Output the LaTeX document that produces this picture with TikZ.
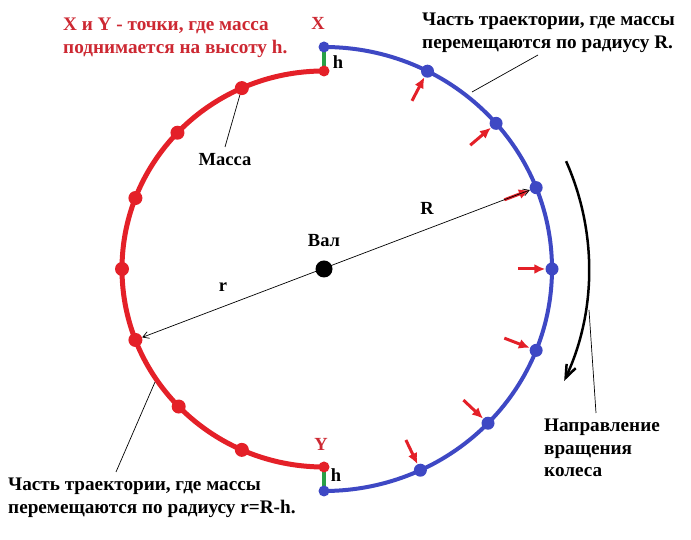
\documentclass[tikz,border=0pt]{standalone}
\usepackage{fontspec}
\setmainfont{Liberation Serif}
\usetikzlibrary{arrows.meta,calc}
\definecolor{arcred}{RGB}{228,32,40}
\definecolor{txtred}{RGB}{205,40,50}
\definecolor{arcblue}{RGB}{62,72,196}
\definecolor{hgreen}{RGB}{40,160,70}
\begin{document}
\begin{tikzpicture}[x=1pt,y=1pt,
  redarc/.style={arcred,line width=5pt},
  bluearc/.style={arcblue,line width=4pt},
  reddot/.style={circle,fill=arcred,inner sep=0pt,minimum size=14pt},
  bluedot/.style={circle,fill=arcblue,inner sep=0pt,minimum size=13pt},
  hseg/.style={hgreen,line width=4pt},
  pusharrow/.style={arcred,line width=3pt,-{Latex[length=11pt,width=10pt]},shorten >=0pt},
  leader/.style={black,line width=0.7pt},
  thinarrow/.style={black,line width=0.7pt,{Straight Barb[length=6pt,width=7pt]}-{Straight Barb[length=6pt,width=7pt]}},
  rotarrow/.style={black,line width=2.5pt,-{Straight Barb[length=13pt,width=10pt]}},
  bigtxt/.style={font=\fontsize{19.2}{22.5}\selectfont\bfseries,align=left,inner sep=0pt},
  lbl/.style={font=\fontsize{18.5}{21}\selectfont\bfseries,inner sep=0pt}
]
\useasboundingbox (0,0) rectangle (691,540);
\fill[white] (0,0) rectangle (691,540);
\coordinate (C) at (324,271);

% arcs
\draw[redarc] ($(C)+(0,198)$) arc[start angle=90,end angle=270,x radius=202,y radius=198];
\draw[bluearc] ($(C)+(0,222)$) arc[start angle=90,end angle=-90,x radius=228,y radius=222];

% height segments
\draw[hseg] ($(C)+(0,222)$) -- ($(C)+(0,198)$);
\draw[hseg] ($(C)+(0,-222)$) -- ($(C)+(0,-198)$);

% red dots
\node[reddot,minimum size=11pt] (r1) at ($(C)+(0,198)$) {};
\foreach \a [count=\i from 2] in {114,136.5,159,180,201,224,246}
  \node[reddot] (r\i) at ($(C)+({202*cos(\a)},{198*sin(\a)})$) {};
\node[reddot,minimum size=11pt] (r9) at ($(C)+(0,-198)$) {};
% blue dots
\node[bluedot,minimum size=11pt] (b1) at ($(C)+(0,222)$) {};
\foreach \a [count=\i from 2] in {63,41,21.5,0,-21.5,-44,-65}
  \node[bluedot] (b\i) at ($(C)+({228*cos(\a)},{222*sin(\a)})$) {};
\node[bluedot,minimum size=11pt] (b9) at ($(C)+(0,-222)$) {};

% red push arrows
\foreach \i in {2,...,8}
  \draw[pusharrow] ($(C)!0.85!(b\i)$) -- (b\i);

% shaft
\node[circle,fill=black,inner sep=0pt,minimum size=17pt] (shaft) at (C) {};
\node[lbl] (val) at (324,299) {Вал};

% radius line
\draw[thinarrow] (r6) -- (b4);
\node[lbl] (Rl) at (427,332) {R};
\node[lbl] (rl) at (223,253) {r};

% rotation arrow
\draw[rotarrow] ($(C)+(24:265)$) arc[start angle=24,end angle=-25,radius=265];

% X / Y labels
\node[lbl,txtred] (X) at (318,517) {X};
\node[lbl] (h1) at (338,478) {h};
\node[lbl,txtred] (Y) at (321,96) {Y};
\node[lbl] (h2) at (336,65) {h};

% texts
\node[bigtxt,txtred,anchor=north west] (note) at (63,522)
  {X и Y - точки, где масса\\поднимается на высоту h.};
\node[bigtxt,anchor=north west] (outer) at (422,527)
  {Часть траектории, где массы\\перемещаются по радиусу R.};
\node[bigtxt,anchor=north west] (inner) at (8,62)
  {Часть траектории, где массы\\перемещаются по радиусу r=R-h.};
\node[bigtxt,anchor=north west] (dir) at (544,121)
  {Направление\\вращения\\колеса};
\node[lbl] (mass) at (225,380) {Масса};

% leaders
\coordinate (lo1) at (538,485); \coordinate (lo2) at (472,448);
\draw[leader] (lo1) -- (lo2);
\coordinate (li1) at (155,158); \coordinate (li2) at (116,68);
\draw[leader] (li1) -- (li2);
\coordinate (lm2) at (225,393);
\draw[leader] (r2) -- (lm2);
\coordinate (ld1) at (589,230); \coordinate (ld2) at (596,127);
\draw[leader] (ld1) -- (ld2);
\end{tikzpicture}
\end{document}
